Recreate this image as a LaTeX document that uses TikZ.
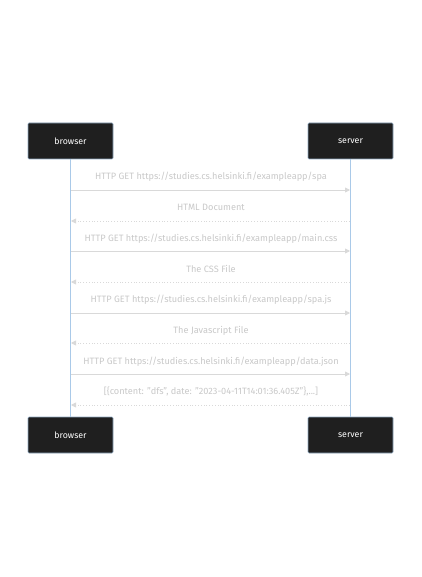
\documentclass[tikz,border=0pt]{standalone}
\usepackage{fontspec}
\setmainfont{Fira Sans}
\usetikzlibrary{arrows.meta}
\definecolor{boxfill}{HTML}{1F1F1F}
\definecolor{boxedge}{HTML}{8FA8C0}
\definecolor{lifeline}{HTML}{A9C9E8}
\definecolor{msgtext}{HTML}{C8C8C8}
\definecolor{msgline}{HTML}{D9D9D9}
\tikzset{
  actor/.style={draw=boxedge, fill=boxfill, rounded corners=1pt, minimum width=85pt, minimum height=36pt, text=white, font=\fontsize{8.8}{10}\selectfont, inner sep=0pt, line width=0.6pt},
  life/.style={draw=lifeline, line width=1pt},
  msglabel/.style={text=msgtext, font=\fontsize{9.2}{11}\selectfont, inner sep=0pt, anchor=base},
  req/.style={draw=msgline, line width=0.8pt, -{Triangle[length=5pt,width=5pt,fill=msgline]}},
  resp/.style={draw=msgline, line width=0.8pt, dotted, -{Triangle[length=5pt,width=5pt,fill=msgline]}},
}
\begin{document}
\begin{tikzpicture}[x=1pt,y=-1pt]
\useasboundingbox (0,0) rectangle (422,577);
\node[actor] (bt) at (70.5,141) {\raisebox{-1pt}{browser}};
\node[actor] (st) at (350.5,141) {\raisebox{-1pt}{server}};
\node[actor] (bb) at (70.5,435) {\raisebox{-1pt}{browser}};
\node[actor] (sb) at (350.5,435) {\raisebox{-1pt}{server}};
\draw[life] (bt.south) -- (bb.north);
\draw[life] (st.south) -- (sb.north);
% message coordinates
\foreach \i/\y in {1/190,2/221,3/251,4/282,5/313,6/343,7/374,8/405}{
  \coordinate (b\i) at (71,\y);
  \coordinate (s\i) at (350,\y);
}
\draw[req] (b1) -- (s1);
\draw[resp] (s2) -- (b2);
\draw[req] (b3) -- (s3);
\draw[resp] (s4) -- (b4);
\draw[req] (b5) -- (s5);
\draw[resp] (s6) -- (b6);
\draw[req] (b7) -- (s7);
\draw[resp] (s8) -- (b8);
\node[msglabel] (m1) at (211,179.5) {HTTP GET https://studies.cs.helsinki.fi/exampleapp/spa};
\node[msglabel] (m2) at (211,211) {HTML Document};
\node[msglabel] (m3) at (211,241.5) {HTTP GET https://studies.cs.helsinki.fi/exampleapp/main.css};
\node[msglabel] (m4) at (211,272) {The CSS File};
\node[msglabel] (m5) at (211,302.5) {HTTP GET https://studies.cs.helsinki.fi/exampleapp/spa.js};
\node[msglabel] (m6) at (211,333) {The Javascript File};
\node[msglabel] (m7) at (211,364) {HTTP GET https://studies.cs.helsinki.fi/exampleapp/data.json};
\node[msglabel] (m8) at (211,394.5) {[\{content: "dfs", date: "2023-04-11T14:01:36.405Z"\},...]};
\end{tikzpicture}
\end{document}
